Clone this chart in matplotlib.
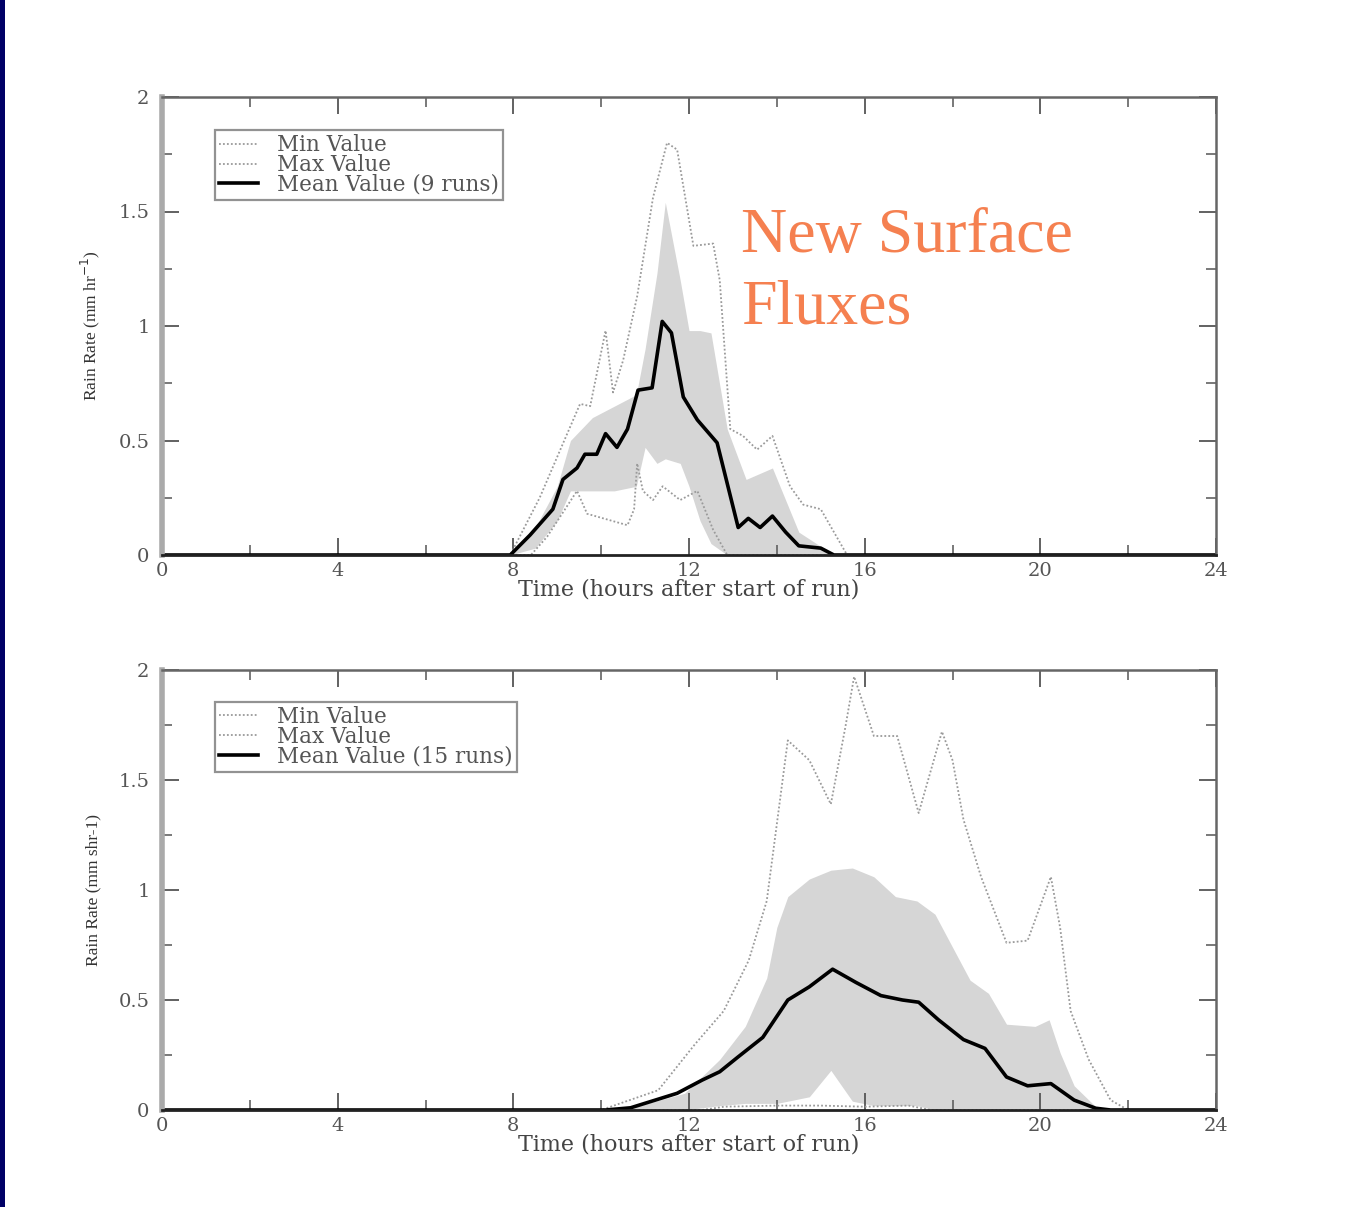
import matplotlib.pyplot as plt
from matplotlib.patches import Rectangle
from matplotlib.ticker import MultipleLocator

plt.rcParams['font.family'] = ['DejaVu Serif', 'Liberation Serif']

# ---- top panel: 9 runs ----
top_mean_t = [0, 7.93, 8.38, 8.9, 9.13, 9.45, 9.63, 9.9, 10.1, 10.36, 10.6, 10.84, 11.16, 11.39, 11.6,
              11.87, 12.19, 12.64, 13.12, 13.35, 13.62, 13.9, 14.2, 14.5, 15.0, 15.3, 24]
top_mean_v = [0, 0, 0.087, 0.2, 0.33, 0.38, 0.44, 0.44, 0.53, 0.47, 0.55, 0.72, 0.73, 1.02, 0.97,
              0.69, 0.59, 0.49, 0.12, 0.16, 0.12, 0.17, 0.1, 0.04, 0.03, 0, 0]

top_max_t = [0, 7.93, 8.6, 9.07, 9.52, 9.75, 10.1, 10.27, 10.5, 10.82, 11.18, 11.5, 11.73, 12.1, 12.55,
             12.7, 12.94, 13.23, 13.55, 13.9, 14.3, 14.6, 15.0, 15.3, 15.6, 24]
top_max_v = [0, 0, 0.25, 0.46, 0.66, 0.65, 0.98, 0.71, 0.85, 1.13, 1.56, 1.8, 1.77, 1.35, 1.36,
             1.2, 0.55, 0.52, 0.46, 0.52, 0.3, 0.22, 0.2, 0.1, 0, 0]

top_min_t = [0, 8.4, 8.77, 9.45, 9.68, 10.6, 10.75, 10.82, 10.95, 11.18, 11.4, 11.8, 12.19, 12.55, 12.87, 24]
top_min_v = [0, 0, 0.08, 0.28, 0.18, 0.13, 0.2, 0.4, 0.28, 0.24, 0.3, 0.24, 0.28, 0.11, 0, 0]

top_band_t = [7.93, 8.5, 9.0, 9.3, 9.8, 10.3, 10.8, 11.0, 11.27, 11.46, 11.8, 12.0, 12.25, 12.5, 12.87,
              13.3, 13.9, 14.5, 15.3]
top_band_hi = [0, 0.12, 0.3, 0.5, 0.6, 0.65, 0.7, 0.9, 1.23, 1.54, 1.2, 0.98, 0.98, 0.97, 0.55,
               0.33, 0.38, 0.1, 0]
top_band_lo = [0, 0.03, 0.15, 0.28, 0.28, 0.28, 0.3, 0.47, 0.4, 0.42, 0.4, 0.3, 0.15, 0.05, 0,
               0, 0, 0, 0]

# ---- bottom panel: 15 runs ----
bot_mean_t = [0, 10.1, 10.67, 11.73, 12.3, 12.7, 13.11, 13.68, 14.25, 14.74, 15.27, 15.8, 16.37, 16.86,
              17.23, 17.68, 18.25, 18.74, 19.23, 19.71, 20.24, 20.77, 21.26, 21.6, 24]
bot_mean_v = [0, 0, 0.01, 0.076, 0.136, 0.174, 0.24, 0.33, 0.5, 0.56, 0.64, 0.58, 0.52, 0.5,
              0.49, 0.41, 0.32, 0.28, 0.15, 0.11, 0.12, 0.045, 0.008, 0, 0]

bot_max_t = [0, 10.0, 11.3, 12.14, 12.79, 13.36, 13.77, 14.25, 14.74, 15.23, 15.56, 15.76, 16.21, 16.74,
             17.23, 17.76, 18.0, 18.25, 18.65, 19.23, 19.71, 20.24, 20.45, 20.69, 21.1, 21.6, 22.0, 24]
bot_max_v = [0, 0, 0.09, 0.3, 0.45, 0.68, 0.95, 1.68, 1.59, 1.39, 1.74, 1.97, 1.7, 1.7,
             1.35, 1.72, 1.59, 1.32, 1.06, 0.76, 0.77, 1.06, 0.83, 0.45, 0.23, 0.045, 0, 0]

bot_min_t = [0, 12.3, 12.8, 14.0, 15.0, 16.0, 17.0, 17.5, 24]
bot_min_v = [0, 0, 0.015, 0.02, 0.02, 0.015, 0.02, 0, 0]

bot_band_t = [10.5, 11.9, 12.7, 13.28, 13.77, 14.0, 14.25, 14.74, 15.23, 15.72, 16.21, 16.7, 17.19,
              17.6, 18.0, 18.4, 18.82, 19.23, 19.88, 20.2, 20.45, 20.77, 21.26, 21.6]
bot_band_hi = [0, 0.076, 0.23, 0.38, 0.6, 0.83, 0.97, 1.05, 1.09, 1.1, 1.06, 0.97, 0.95,
               0.89, 0.74, 0.59, 0.53, 0.39, 0.38, 0.41, 0.26, 0.11, 0.015, 0]
bot_band_lo = [0, 0, 0.02, 0.03, 0.03, 0.03, 0.04, 0.06, 0.18, 0.04, 0.02, 0.02, 0.02,
               0, 0, 0, 0, 0, 0, 0, 0, 0, 0, 0]

xticks = [0, 4, 8, 12, 16, 20, 24]
yticks = [0, 0.5, 1, 1.5, 2]

fig = plt.figure(figsize=(13.66, 12.07), dpi=100)
fig.patches.append(Rectangle((0, 0), 5 / 1366, 1, transform=fig.transFigure,
                             facecolor='#000066', edgecolor='none', zorder=0))

ax1 = fig.add_axes([162 / 1366, 1 - 555 / 1207, 1054 / 1366, 458 / 1207])
ax2 = fig.add_axes([162 / 1366, 1 - 1110 / 1207, 1054 / 1366, 440 / 1207])

panels = [
    (ax1, top_band_t, top_band_lo, top_band_hi, top_min_t, top_min_v, top_max_t, top_max_v,
     top_mean_t, top_mean_v, 'Mean Value (9 runs)', 'Rain Rate (mm hr$^{-1}$)'),
    (ax2, bot_band_t, bot_band_lo, bot_band_hi, bot_min_t, bot_min_v, bot_max_t, bot_max_v,
     bot_mean_t, bot_mean_v, 'Mean Value (15 runs)', 'Rain Rate (mm shr-1)'),
]

for (ax, bt, blo, bhi, mint, minv, maxt, maxv, mt, mv, mean_lab, ylab) in panels:
    ax.fill_between(bt, blo, bhi, color='#d6d6d6', linewidth=0)
    ax.plot(mint, minv, color='#9a9a9a', linestyle=(0, (1, 1.2)), linewidth=1.3, label='Min Value')
    ax.plot(maxt, maxv, color='#9a9a9a', linestyle=(0, (1, 1.2)), linewidth=1.3, label='Max Value')
    ax.plot(mt, mv, color='black', linewidth=2.6, label=mean_lab)
    ax.set_xlim(0, 24)
    ax.set_ylim(0, 2)
    ax.set_xticks(xticks)
    ax.set_xticklabels([str(t) for t in xticks])
    ax.set_yticks(yticks)
    ax.set_yticklabels(['0', '0.5', '1', '1.5', '2'])
    ax.xaxis.set_minor_locator(MultipleLocator(2))
    ax.yaxis.set_minor_locator(MultipleLocator(0.25))
    ax.tick_params(which='both', direction='in', top=True, right=True, colors='#555555',
                   labelsize=14, labelcolor='#555555')
    ax.tick_params(axis='x', pad=5)
    ax.tick_params(axis='y', pad=9)
    ax.tick_params(which='major', length=12, width=1.3)
    ax.tick_params(which='minor', length=7, width=1.1)
    for s in ['top', 'right']:
        ax.spines[s].set_color('#666666')
        ax.spines[s].set_linewidth(1.8)
    ax.spines['left'].set_color('#aaaaaa')
    ax.spines['left'].set_linewidth(4)
    ax.spines['bottom'].set_color('#222222')
    ax.spines['bottom'].set_linewidth(2)
    ax.set_xlabel('Time (hours after start of run)', fontsize=16, color='#444444', labelpad=-1)
    ax.set_ylabel(ylab, fontsize=12.5, color='#333333', labelpad=12, family='Liberation Serif')
    leg = ax.legend(loc='upper left', bbox_to_anchor=(0.05, 0.928), fontsize=15.5, frameon=True,
                    fancybox=False, edgecolor='#777777', handlelength=1.8, handletextpad=0.9,
                    borderpad=0.2, labelspacing=-0.1, borderaxespad=0)
    leg.get_frame().set_linewidth(1.6)
    for txt in leg.get_texts():
        txt.set_color('#555555')

ax1.text(0.549, 0.757, 'New Surface\nFluxes', transform=ax1.transAxes, fontsize=46,
         color='#f58050', ha='left', va='top', linespacing=1.3, family='Liberation Serif')

fig.savefig('out.png', dpi=100)
